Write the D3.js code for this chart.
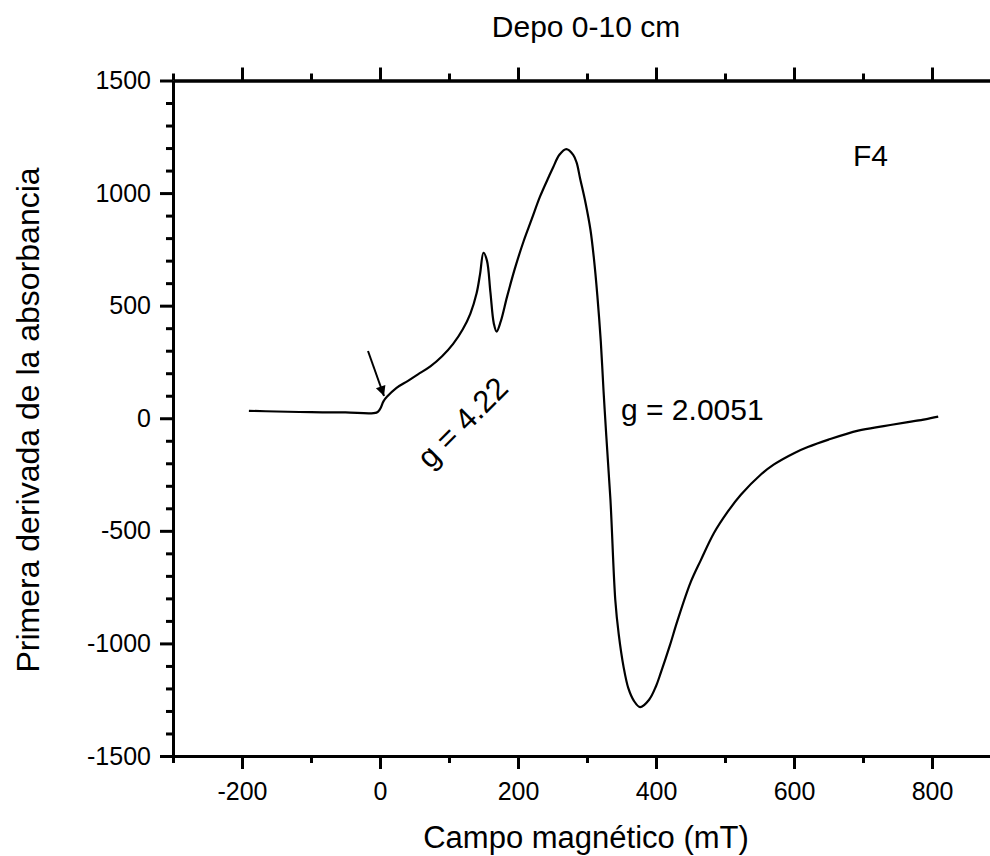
<!DOCTYPE html>
<html>
<head>
<meta charset="utf-8">
<script src="https://cdn.jsdelivr.net/npm/d3@7"></script>
<style>
  body { margin: 0; background: #fff; }
  svg { font-family: "Liberation Sans", Arial, sans-serif; }
</style>
</head>
<body>
<svg id="chart" width="990" height="856"></svg>
<script>
// field (mT) and first-derivative signal
const field = [-190, -150, -100, -50, -5, 0, 5, 10, 24, 40, 55, 73, 90, 106, 120, 131, 140, 145,
    150, 155, 160, 165, 169, 175, 184, 195, 208, 220, 232, 245, 251, 260, 270, 280, 285, 290, 298, 305,
    310, 315, 320, 324, 328, 334, 341, 346, 353, 360, 368, 377, 390, 400, 407, 420, 431, 450, 465, 484,
    504, 523, 552, 571, 600, 620, 650, 693, 730, 765, 790, 809];
const signal = [33, 30, 27, 26, 25, 40, 75, 95, 135, 165, 195, 230, 275, 330, 395, 465, 555, 640,
    735, 700, 560, 420, 385, 430, 538, 660, 785, 885, 985, 1075, 1115, 1170, 1195, 1170, 1135, 1065, 955, 837,
    710, 545, 340, 120, -80, -363, -807, -960, -1104, -1200, -1255, -1283, -1250, -1190, -1130, -1010, -900, -730, -630, -510,
    -415, -340, -250, -205, -155, -128, -95, -55, -35, -17, -5, 7];

const xMajor = [-200, 0, 200, 400, 600, 800];
const xMinor = [-300, -100, 100, 300, 500, 700, 900];
const yMajor = [-1500, -1000, -500, 0, 500, 1000, 1500];
const yMinor = d3.range(-1400, 1500, 100).filter(v => v % 500 !== 0);

const svg = d3.select("#chart");
const plotL = 173, plotR = 1001, plotT = 80.5, plotB = 756;

const x = d3.scaleLinear().domain([-300, 900]).range([plotL, plotR]);
const y = d3.scaleLinear().domain([-1500, 1500]).range([plotB, plotT]);
const plain = d => String(d);

function styleAxis(g) {
    g.selectAll("path").attr("stroke-width", 3).attr("stroke", "#000");
    g.selectAll("line").attr("stroke-width", 3).attr("stroke", "#000");
    g.selectAll("text").attr("font-size", 25).attr("fill", "#000")
        .attr("font-family", "'Liberation Sans', Arial, sans-serif");
}

// bottom
svg.append("g").attr("transform", `translate(0,${plotB})`)
    .call(d3.axisBottom(x).tickValues(xMinor).tickSize(7).tickFormat("").tickSizeOuter(0))
    .call(styleAxis);
svg.append("g").attr("transform", `translate(0,${plotB})`)
    .call(d3.axisBottom(x).tickValues(xMajor).tickSize(13).tickPadding(13).tickFormat(plain).tickSizeOuter(0))
    .call(styleAxis);

// top
svg.append("g").attr("transform", `translate(0,${plotT})`)
    .call(d3.axisTop(x).tickValues(xMinor).tickSize(7).tickFormat("").tickSizeOuter(0))
    .call(styleAxis);
svg.append("g").attr("transform", `translate(0,${plotT})`)
    .call(d3.axisTop(x).tickValues(xMajor).tickSize(13).tickFormat("").tickSizeOuter(0))
    .call(styleAxis);

// left
svg.append("g").attr("transform", `translate(${plotL},0)`)
    .call(d3.axisLeft(y).tickValues(yMinor).tickSize(7).tickFormat("").tickSizeOuter(0))
    .call(styleAxis);
svg.append("g").attr("transform", `translate(${plotL},0)`)
    .call(d3.axisLeft(y).tickValues(yMajor).tickSize(13).tickPadding(9).tickFormat(plain).tickSizeOuter(0))
    .call(styleAxis);

// spectrum
const line = d3.line()
    .x((d, i) => x(field[i]))
    .y(d => y(d))
    .curve(d3.curveCatmullRom.alpha(0.5));

svg.append("path")
    .datum(signal)
    .attr("d", line)
    .attr("fill", "none")
    .attr("stroke", "#000")
    .attr("stroke-width", 2.2);

// titles
svg.append("text").attr("x", 586).attr("y", 37).attr("text-anchor", "middle")
    .attr("font-size", 30).text("Depo 0-10 cm");
svg.append("text").attr("x", 586).attr("y", 848).attr("text-anchor", "middle")
    .attr("font-size", 31).text("Campo magnético (mT)");
svg.append("text").attr("transform", "translate(39,420) rotate(-90)").attr("text-anchor", "middle")
    .attr("font-size", 32).text("Primera derivada de la absorbancia");

// annotations
svg.append("text").attr("x", 853).attr("y", 166).attr("font-size", 30).text("F4");
svg.append("text").attr("x", 621).attr("y", 420).attr("font-size", 30).text("g = 2.0051");
svg.append("text").attr("transform", "translate(430,470) rotate(-45)")
    .attr("font-size", 31).text("g = 4.22");

// arrow pointing at the g = 4.22 feature
svg.append("defs").append("marker")
    .attr("id", "head").attr("viewBox", "0 0 10 10")
    .attr("refX", 10).attr("refY", 5)
    .attr("markerWidth", 7).attr("markerHeight", 5)
    .attr("markerUnits", "strokeWidth")
    .attr("orient", "auto")
    .append("path").attr("d", "M0,0 L10,5 L0,10 Z").attr("fill", "#000");

svg.append("line")
    .attr("x1", 368).attr("y1", 351)
    .attr("x2", 384).attr("y2", 396)
    .attr("stroke", "#000").attr("stroke-width", 2)
    .attr("marker-end", "url(#head)");
</script>
</body>
</html>
